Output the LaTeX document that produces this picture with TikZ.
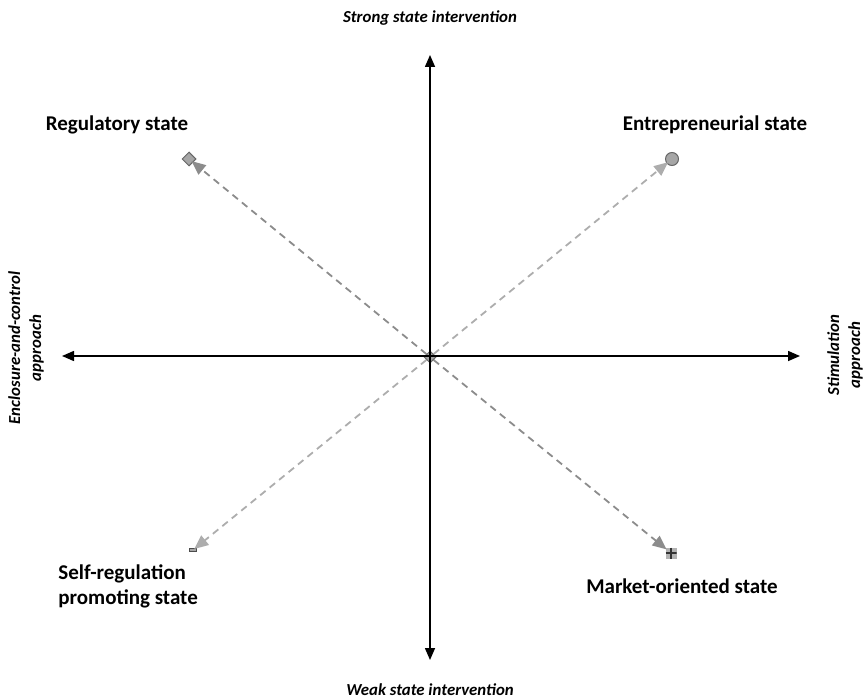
\documentclass[tikz,border=0pt]{standalone}
\usepackage{fontspec}
\setmainfont{Carlito}
\usetikzlibrary{arrows.meta, shapes.geometric}

\begin{document}
\begin{tikzpicture}[
    x=0.5pt, y=-0.5pt,
    % Global styles
    axis/.style={line width=0.75pt, {Triangle[length=6pt,width=5pt]}-{Triangle[length=6pt,width=5pt]}},
    dashpath/.style={line width=0.9pt, dash pattern=on 3.5pt off 2.6pt, shorten >=-1pt},
    darkpath/.style={dashpath, draw=black!45, -{Triangle[length=7pt,width=6pt,fill=black!45]}},
    lightpath/.style={dashpath, draw=black!32, -{Triangle[length=7pt,width=6pt,fill=black!32]}},
    statelabel/.style={font=\bfseries\fontsize{10.5}{12.5}\selectfont, inner sep=0pt},
    axislabel/.style={font=\bfseries\itshape\fontsize{8.4}{10.5}\selectfont, inner sep=0pt, align=center},
    marker/.style={draw=black!60, fill=black!35, line width=0.5pt, inner sep=0pt}
    ]
    \useasboundingbox (0,0) rectangle (866,700);

    % ===========================
    % AXES
    % ===========================
    \node[marker, diamond, minimum size=6pt] (o) at (430,357) {};
    \coordinate (top) at (430,55);
    \coordinate (bottom) at (430,660);
    \coordinate (left) at (62,356);
    \coordinate (right) at (800,356);

    \draw[axis] (bottom) -- (top);
    \draw[axis] (left) -- (right);

    % Axis labels
    \node[axislabel] (strong) at (430,18) {Strong state intervention};
    \node[axislabel] (weak) at (430,690) {Weak state intervention};
    \node[axislabel, rotate=90] (enclosure) at (26,348) {Enclosure-and-control\\approach};
    \node[axislabel, rotate=90] (stimulation) at (845,355) {Stimulation\\approach};

    % ===========================
    % STATE TYPES
    % ===========================

    % Markers
    \node[marker, diamond, minimum size=7pt] (reg) at (189,159) {};
    \node[marker, circle, minimum size=6.5pt] (ent) at (672,159) {};
    \node[marker, rectangle, draw=black!70, minimum width=3.5pt, minimum height=1.8pt] (self) at (193,550) {};
    \node[marker, rectangle, draw=none, fill=black!30, minimum size=5.5pt,
          path picture={\draw[black!80, line width=0.6pt]
            (path picture bounding box.north) -- (path picture bounding box.south)
            (path picture bounding box.west) -- (path picture bounding box.east);}] (mkt) at (671,553) {};

    % Labels
    \node[statelabel] (reglabel) at (117,125) {Regulatory state};
    \node[statelabel] (entlabel) at (715,125) {Entrepreneurial state};
    \node[statelabel, anchor=west, align=left] (selflabel) at (58,586) {Self-regulation\\promoting state};
    \node[statelabel] (mktlabel) at (682,586) {Market-oriented state};

    % Dashed paths from the centre
    \draw[darkpath] (o) -- (reg);
    \draw[lightpath] (o) -- (ent);
    \draw[lightpath] (o) -- (self);
    \draw[darkpath] (o) -- (mkt);

\end{tikzpicture}
\end{document}
